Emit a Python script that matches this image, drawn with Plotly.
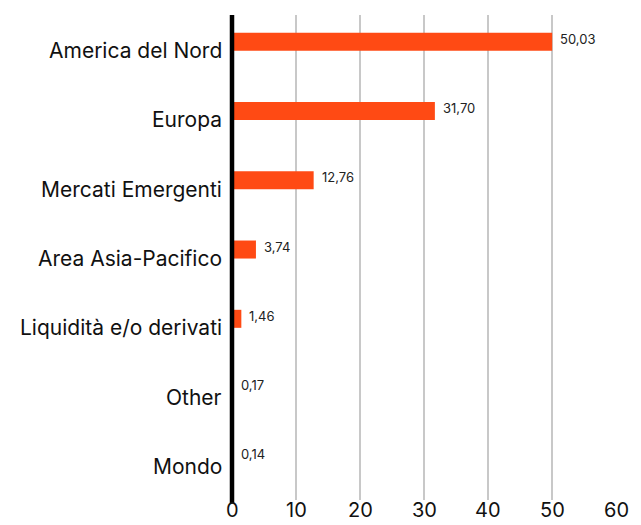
import plotly.graph_objects as go

categories = ["America del Nord", "Europa", "Mercati Emergenti", "Area Asia-Pacifico",
              "Liquidità e/o derivati", "Other", "Mondo"]
values = [50.03, 31.70, 12.76, 3.74, 1.46, 0.17, 0.14]
value_labels = ["50,03", "31,70", "12,76", "3,74", "1,46", "0,17", "0,14"]
x_ticks = [0, 10, 20, 30, 40, 50, 60]

BAR_COLOR = "#ff4a14"
FONT = "Inter"

fig = go.Figure()
fig.add_trace(go.Bar(
    x=values, y=categories, orientation="h",
    marker=dict(color=BAR_COLOR, line=dict(width=0)),
    width=0.26, offset=-0.245,
    hoverinfo="skip",
))

for v, c, t in zip(values, categories, value_labels):
    fig.add_annotation(x=v, y=c, text=t, showarrow=False, xanchor="left",
                       yanchor="middle", xshift=6, yshift=11,
                       font=dict(family=FONT, size=13, color="#222222"))

# category labels (y axis)
for c in categories:
    fig.add_annotation(x=0, xref="paper", y=c, yref="y", text=c, showarrow=False,
                       xanchor="right", yanchor="middle", xshift=-8, yshift=-1,
                       font=dict(family=FONT, size=21, color="#111111"))

# x tick labels
for t in x_ticks:
    fig.add_annotation(x=t, xref="x", y=0, yref="paper", text=str(t), showarrow=False,
                       xanchor="center", yanchor="top", yshift=4,
                       font=dict(family=FONT, size=20, color="#111111"))

# black axis line at x = 0 (left edge of the plot area, not clipped)
fig.add_shape(type="line", xref="paper", yref="paper", x0=0, x1=0, y0=-0.007, y1=1,
              line=dict(color="black", width=4.5), layer="above")

fig.update_layout(
    width=633, height=517,
    margin=dict(l=224, r=25, t=7, b=25, autoexpand=False),
    paper_bgcolor="white", plot_bgcolor="white",
    showlegend=False,
    font=dict(family=FONT, color="#111111"),
    xaxis=dict(range=[0, 60], tickvals=x_ticks, showgrid=True, gridcolor="#c8c8c8",
               gridwidth=2, zeroline=False, showline=False, ticks="", automargin=False,
               showticklabels=False),
    yaxis=dict(type="category", categoryorder="array", categoryarray=categories,
               autorange="reversed", showgrid=False, zeroline=False, showline=False,
               ticks="", showticklabels=False, automargin=False),
)

fig.write_html("out.html")
